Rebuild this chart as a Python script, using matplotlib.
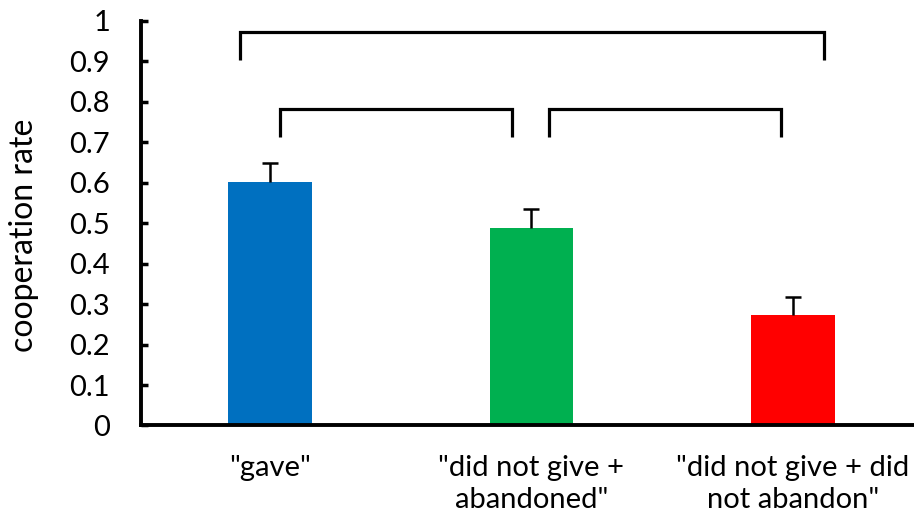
import matplotlib.pyplot as plt

plt.rcParams["font.family"] = ["Lato", "DejaVu Sans"]

categories = ['"gave"', '"did not give +\nabandoned"', '"did not give + did\nnot abandon"']
rates = [0.601, 0.487, 0.274]
errors = [0.049, 0.049, 0.043]
colors = ["#0070C0", "#00B050", "#FF0000"]
yticks = [0, 0.1, 0.2, 0.3, 0.4, 0.5, 0.6, 0.7, 0.8, 0.9, 1]
ytick_labels = ["0", "0.1", "0.2", "0.3", "0.4", "0.5", "0.6", "0.7", "0.8", "0.9", "1"]

# brackets: (x_left, x_right, y_top, y_bottom)
brackets = [
    (-0.115, 2.119, 0.973, 0.904),
    (0.038, 0.925, 0.782, 0.713),
    (1.067, 1.954, 0.782, 0.713),
]

fig = plt.figure(figsize=(9.14, 5.16), dpi=100)
ax = fig.add_axes([0.154, 0.1754, 0.846, 0.784])

x = list(range(len(categories)))
tops = [r + e for r, e in zip(rates, errors)]
ax.bar(x, rates, width=0.32, color=colors, zorder=2)
# upper error bars only
ax.vlines(x, rates, tops, color="black", lw=1.8, zorder=3)
ax.plot(x, tops, ls="none", marker="_", markersize=11, mew=1.8, color="black", zorder=3)

for x0, x1, yt, yb in brackets:
    ax.plot([x0, x0, x1, x1], [yb, yt, yt, yb], color="black", lw=2.3,
            solid_joinstyle="miter", solid_capstyle="butt")

ax.set_xlim(-0.494, 2.463)
ax.set_ylim(0, 1)
ax.set_yticks(yticks)
ax.set_yticklabels(ytick_labels)
ax.set_xticks(x)
ax.set_xticklabels(categories, linespacing=1.3)
ax.tick_params(axis="y", direction="in", length=5, width=2.5, pad=22, labelsize=21)
ax.tick_params(axis="x", length=0, pad=21, labelsize=21)

for s in ["top", "right"]:
    ax.spines[s].set_visible(False)
for s in ["left", "bottom"]:
    ax.spines[s].set_linewidth(2.8)

ax.set_ylabel("cooperation rate", fontsize=23)
ax.yaxis.set_label_coords(-0.132, 0.47)

fig.savefig("out.png", dpi=100)
